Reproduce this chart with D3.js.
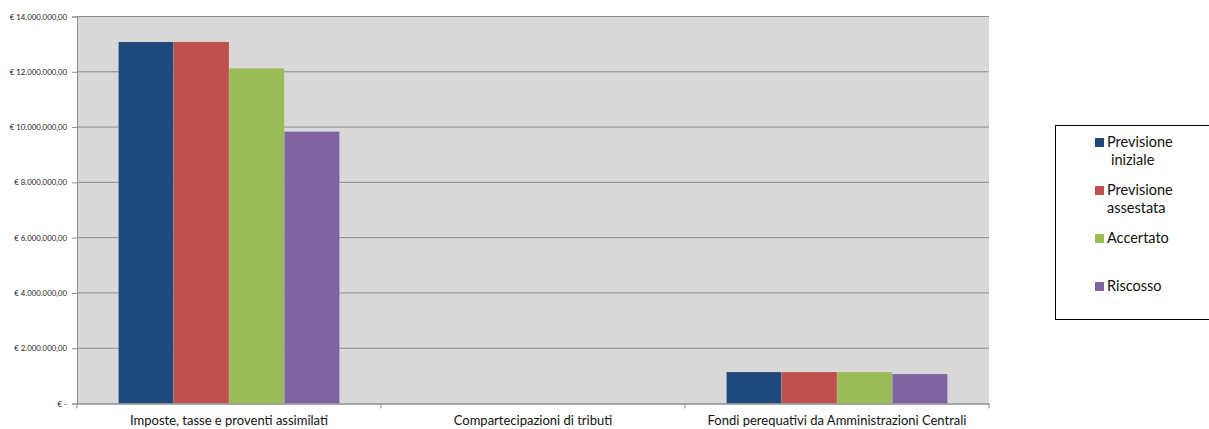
<!DOCTYPE html>
<html>
<head>
<meta charset="utf-8">
<script src="https://cdn.jsdelivr.net/npm/d3@7"></script>
<style>
  html, body { margin: 0; padding: 0; background: #fff; }
  svg { display: block; font-family: Lato, "Open Sans", sans-serif; }
</style>
</head>
<body>
<svg id="chart" width="1209" height="429"></svg>
<script>
// Categories of revenue (Titolo I)
const categories = [
  "Imposte, tasse e proventi assimilati",
  "Compartecipazioni di tributi",
  "Fondi perequativi da Amministrazioni Centrali"
];
const seriesNames = ["Previsione iniziale", "Previsione assestata", "Accertato", "Riscosso"];
const seriesLabelLines = [["Previsione", "iniziale"], ["Previsione", "assestata"], ["Accertato"], ["Riscosso"]];
const seriesColors = ["#1f497d", "#c0504d", "#9bbb59", "#8064a2"];

// Values in euro per series, in category order
const previsioneIniziale  = [13080000, 0, 1140000];
const previsioneAssestata = [13080000, 0, 1140000];
const accertato           = [12130000, 0, 1140000];
const riscosso            = [9840000, 0, 1070000];
const seriesValues = [previsioneIniziale, previsioneAssestata, accertato, riscosso];

const yTicks = [0, 2000000, 4000000, 6000000, 8000000, 10000000, 12000000, 14000000];

const svg = d3.select("#chart");
const plot = { left: 77, right: 989, top: 16.5, bottom: 403.5 };

const x0 = d3.scaleBand().domain(categories).range([plot.left, plot.right]).paddingInner(0).paddingOuter(0);
const groupWidth = 221;
const x1 = d3.scaleBand().domain(seriesNames).range([0, groupWidth]).padding(0);
const y = d3.scaleLinear().domain([0, 14000000]).range([plot.bottom, plot.top]);

// plot background
svg.append("rect")
  .attr("x", plot.left).attr("y", plot.top)
  .attr("width", plot.right - plot.left).attr("height", plot.bottom - plot.top)
  .attr("fill", "#d9d9d9");

// gridlines
svg.append("g").selectAll("line").data(yTicks.filter(d => d > 0)).join("line")
  .attr("x1", plot.left).attr("x2", plot.right)
  .attr("y1", d => y(d)).attr("y2", d => y(d))
  .attr("stroke", "#8c8c8c").attr("stroke-width", 1);

// y axis
const fmt = v => v === 0 ? "€ -" : "€ " + d3.format(",.2f")(v).replace(/,/g, "#").replace(/\./g, ",").replace(/#/g, ".");
const yAxis = svg.append("g").attr("transform", `translate(${plot.left},0)`)
  .call(d3.axisLeft(y).tickValues(yTicks).tickSize(5).tickPadding(5).tickFormat(fmt));
yAxis.select(".domain").attr("stroke", "#8c8c8c");
yAxis.selectAll(".tick line").attr("stroke", "#8c8c8c");
yAxis.selectAll("text").attr("font-size", 7.8).attr("fill", "#222").attr("font-family", "Lato, sans-serif");

// bars
const groups = svg.append("g").selectAll("g").data(categories).join("g")
  .attr("transform", d => `translate(${x0(d) + (x0.bandwidth() - groupWidth) / 2},0)`);
groups.selectAll("rect")
  .data((c, ci) => seriesNames.map((s, si) => ({ s, v: seriesValues[si][ci], color: seriesColors[si] })))
  .join("rect")
  .attr("x", d => x1(d.s))
  .attr("width", x1.bandwidth())
  .attr("y", d => y(d.v))
  .attr("height", d => plot.bottom - y(d.v))
  .attr("fill", d => d.color)
  .attr("stroke", "rgba(255,255,255,0.25)").attr("stroke-width", 0.5);

// x axis
const xAxis = svg.append("g").attr("transform", `translate(0,${plot.bottom})`)
  .call(d3.axisBottom(x0).tickSize(0).tickPadding(12));
xAxis.select(".domain").attr("stroke", "#8c8c8c").attr("stroke-width", 1.5);
xAxis.selectAll("text").attr("font-size", 13).attr("fill", "#111").attr("font-family", "Lato, sans-serif");
// boundary tick marks between categories
const bounds = categories.map(c => x0(c)).concat([plot.right]);
svg.append("g").selectAll("line").data(bounds).join("line")
  .attr("x1", d => d).attr("x2", d => d)
  .attr("y1", plot.bottom).attr("y2", plot.bottom + 5)
  .attr("stroke", "#8c8c8c");

// legend
const legend = svg.append("g");
legend.append("rect")
  .attr("x", 1055.5).attr("y", 125.5).attr("width", 170).attr("height", 194)
  .attr("fill", "#fff").attr("stroke", "#000").attr("stroke-width", 1);
const swatchY = [138, 186, 234, 282];
seriesNames.forEach((s, i) => {
  legend.append("rect")
    .attr("x", 1095).attr("y", swatchY[i]).attr("width", 9).attr("height", 9)
    .attr("fill", seriesColors[i]);
  seriesLabelLines[i].forEach((line, li) => {
    legend.append("text")
      .attr("x", li === 0 ? 1107 : (i === 0 ? 1111 : 1107))
      .attr("y", swatchY[i] + 9 + li * 17.5)
      .attr("font-size", 14.5).attr("fill", "#111")
      .attr("font-family", "Lato, sans-serif")
      .text(line);
  });
});
</script>
</body>
</html>
